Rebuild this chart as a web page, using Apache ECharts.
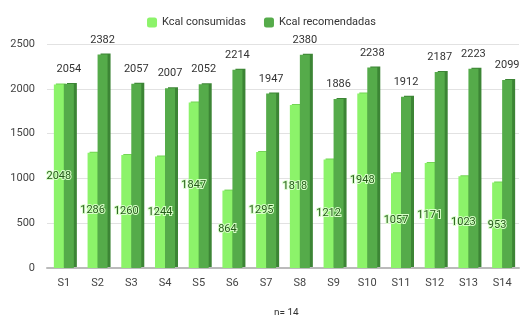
<!DOCTYPE html>
<html>
<head>
<meta charset="utf-8">
<script src="https://cdn.jsdelivr.net/npm/echarts@6/dist/echarts.min.js"></script>
<style>
  html, body { margin: 0; padding: 0; background: #fff; }
  #main { width: 523px; height: 315px; }
</style>
</head>
<body>
<div id="main"></div>
<script>
  const categories = ['S1', 'S2', 'S3', 'S4', 'S5', 'S6', 'S7', 'S8', 'S9', 'S10', 'S11', 'S12', 'S13', 'S14']
  const consumidas = [2048, 1286, 1260, 1244, 1847, 864, 1295, 1818, 1212, 1948, 1057, 1171, 1023, 953]
  const recomendadas = [2054, 2382, 2057, 2007, 2052, 2214, 1947, 2380, 1886, 2238, 1912, 2187, 2223, 2099]
  const yTicks = [0, 500, 1000, 1500, 2000, 2500]

  const font = 'Roboto, "Liberation Sans", Arial, sans-serif'
  const myChart = echarts.init(document.getElementById('main'))
  const option = {
    animation: false,
    textStyle: { fontFamily: font },
    legend: {
      top: 12,
      left: 'center',
      itemWidth: 10,
      itemHeight: 10,
      itemGap: 18,
      textStyle: { fontSize: 11, color: '#333', fontFamily: font },
      data: ['Kcal consumidas', 'Kcal recomendadas']
    },
    grid: { left: 47, right: 4, top: 44, bottom: 47 },
    xAxis: {
      type: 'category',
      data: categories,
      axisTick: { show: false },
      axisLine: { lineStyle: { color: '#bbb', width: 2 } },
      axisLabel: { color: '#444', fontSize: 11, margin: 10 }
    },
    yAxis: {
      type: 'value',
      min: yTicks[0],
      max: yTicks[yTicks.length - 1],
      interval: 500,
      axisLine: { show: false },
      axisTick: { show: false },
      axisLabel: { color: '#444', fontSize: 11, margin: 12, formatter: v => String(v) },
      splitLine: { lineStyle: { color: '#e2e2e2' } }
    },
    series: [
      {
        name: 'Kcal consumidas',
        type: 'bar',
        data: consumidas,
        barWidth: 10,
        barGap: '0%',
        itemStyle: {
          color: '#8cf36a',
          shadowColor: '#73d455',
          shadowOffsetX: 2,
          shadowOffsetY: -1,
          shadowBlur: 0
        },
        label: {
          show: true,
          position: 'inside',
          fontSize: 11,
          color: '#245c18',
          textBorderColor: '#d8ffc8',
          textBorderWidth: 2
        }
      },
      {
        name: 'Kcal recomendadas',
        type: 'bar',
        data: recomendadas,
        barWidth: 10,
        itemStyle: {
          color: '#55ab4a',
          shadowColor: '#3c8535',
          shadowOffsetX: 3,
          shadowOffsetY: -1,
          shadowBlur: 0
        },
        label: {
          show: true,
          position: 'top',
          distance: 9,
          fontSize: 11,
          color: '#333'
        }
      }
    ],
    graphic: [{
      type: 'text',
      left: 274,
      top: 308,
      style: { text: 'n= 14', fontSize: 10, fill: '#333', fontFamily: font }
    }]
  }
  myChart.setOption(option)
</script>
</body>
</html>
